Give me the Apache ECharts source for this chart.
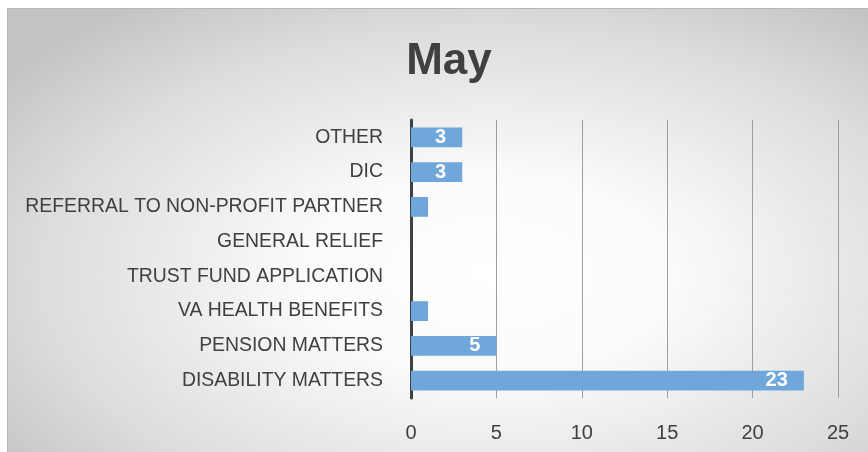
<!DOCTYPE html>
<html>
<head>
<meta charset="utf-8">
<script src="https://cdn.jsdelivr.net/npm/echarts@6/dist/echarts.min.js"></script>
<style>
  html, body { margin: 0; padding: 0; background: #fff; }
  #frame {
    position: absolute; left: 7px; top: 8px; width: 861px; height: 444px;
    border-top: 1px solid #b8b8b8; border-left: 1px solid #b8b8b8; box-sizing: border-box;
    background: radial-gradient(ellipse 70% 75% at 56% 60%, #ffffff 0%, #fbfbfb 30%, #dcdcdc 75%, #c4c4c4 100%);
  }
  #chart { position: absolute; left: 0; top: 0; width: 868px; height: 452px; }
</style>
</head>
<body>
<div id="frame"></div>
<div id="chart"></div>
<script>
    // bottom → top
    var categories = ['DISABILITY MATTERS', 'PENSION MATTERS', 'VA HEALTH BENEFITS',
                      'TRUST FUND APPLICATION', 'GENERAL RELIEF',
                      'REFERRAL TO NON-PROFIT PARTNER', 'DIC', 'OTHER'];
    var counts = [23, 5, 1, 0, 0, 1, 3, 3];
    var xTicks = [0, 5, 10, 15, 20, 25];

    var font = 'Liberation Sans, Arial, sans-serif';
    var chart = echarts.init(document.getElementById('chart'), null, { renderer: 'canvas' });

    chart.setOption({
        backgroundColor: 'transparent',
        animation: false,
        title: {
            text: 'May',
            left: 444,
            top: 35,
            textAlign: 'center',
            textStyle: { fontFamily: font, fontSize: 44, fontWeight: 'bold', color: '#404040' }
        },
        grid: { left: 411, right: 30, top: 120, bottom: 54 },
        xAxis: {
            type: 'value',
            min: xTicks[0],
            max: xTicks[xTicks.length - 1],
            interval: 5,
            axisLine: { show: false },
            axisTick: { show: false },
            axisLabel: { fontFamily: font, fontSize: 20, color: '#404040', margin: 25 },
            splitLine: { show: true, lineStyle: { color: '#9e9e9e', width: 1 } }
        },
        yAxis: {
            type: 'category',
            data: categories,
            axisLine: { show: true, lineStyle: { color: '#404040', width: 3 } },
            axisTick: { show: false },
            axisLabel: { fontFamily: font, fontSize: 19.4, color: '#404040', margin: 28 },
            splitLine: { show: false }
        },
        series: [{
            type: 'bar',
            data: counts,
            barCategoryGap: '43%',
            itemStyle: { color: '#6fa7db', borderWidth: 0 },
            label: {
                show: true,
                position: 'insideRight',
                distance: 16,
                color: '#ffffff',
                fontFamily: font,
                fontSize: 20,
                fontWeight: 'bold',
                // the 1-count bars are too short to carry a label
                formatter: function (p) { return p.value >= 2 ? String(p.value) : ''; }
            }
        }]
    });
</script>
</body>
</html>
